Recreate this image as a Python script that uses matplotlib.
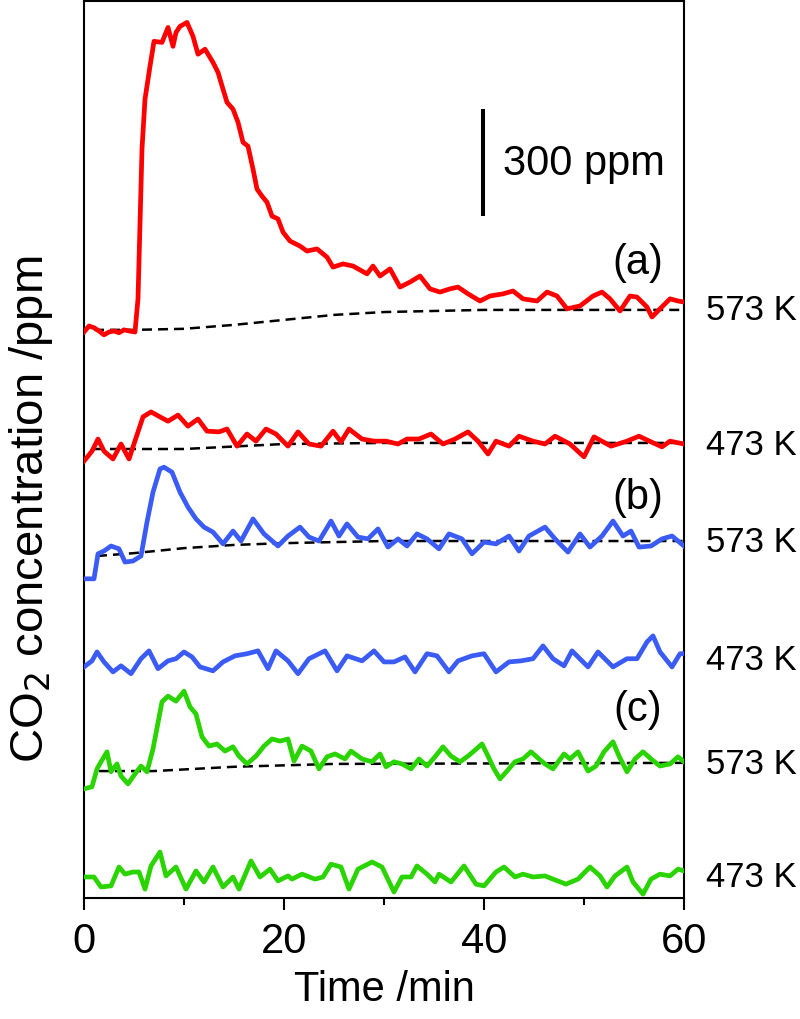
import matplotlib
matplotlib.use("Agg")
import matplotlib.pyplot as plt
from matplotlib.ticker import MultipleLocator

plt.rcParams['font.family'] = ['Liberation Sans', 'DejaVu Sans']

# Time axis (min) and CO2 signals (ppm, relative to each trace's own baseline)
t_a573 = [0, 0.5, 1, 1.5, 2, 2.5, 3, 3.5, 4, 4.5, 5.1, 5.4, 5.8, 6.1, 6.6, 7.0, 7.8, 8.4, 8.9, 9.2,
          9.6, 10.3, 10.9, 11.4, 12.1, 12.9, 13.4, 13.9, 14.3, 14.9, 15.4, 15.9, 16.4, 16.9, 17.3,
          17.8, 18.3, 18.8, 19.4, 19.9, 20.6, 21.6, 22.3, 23.3, 24.3, 24.9, 25.9, 26.9, 28.3, 28.9,
          29.6, 30.6, 31.6, 32.6, 33.6, 34.6, 35.6, 36.6, 37.4, 38.4, 39.6, 40.6, 41.9, 42.9, 43.9,
          45.3, 46.3, 47.3, 48.3, 49.6, 50.9, 51.8, 52.6, 53.6, 54.6, 55.3, 56.3, 56.8, 57.6, 58.6,
          59.4, 60]
v_a573 = [-6, 11, 6, -3, -14, -6, -3, -8, 0, -3, -6, 87, 507, 647, 739, 809, 806, 848, 795, 834,
          851, 862, 823, 773, 787, 750, 722, 675, 638, 619, 582, 526, 515, 451, 395,
          375, 358, 319, 311, 274, 249, 235, 221, 227, 204, 176, 185, 179, 157, 179,
          151, 171, 120, 134, 151, 115, 106, 115, 120, 101, 81, 95, 101, 109, 87,
          81, 106, 95, 59, 67, 95, 106, 87, 53, 95, 92, 64, 36, 59, 87,
          81, 78]

t_a473 = [0, 0.8, 1.4, 2.0, 2.9, 3.7, 4.5, 4.9, 5.9, 6.7, 7.6, 8.4, 9.4, 10.4, 11.4, 12.3, 13.5,
          14.3, 15.3, 16.3, 17.2, 18.2, 19.2, 20.4, 21.4, 22.5, 23.7, 24.9, 25.7, 26.5, 27.8, 29.0,
          30.2, 31.4, 32.3, 33.5, 34.7, 35.9, 37.1, 38.4, 39.4, 40.4, 41.2, 42.5, 43.5, 44.9, 46.1,
          47.1, 48.6, 50.0, 51.0, 52.7, 54.3, 55.5, 56.7, 57.8, 58.6, 60]
v_a473 = [-48, -20, 14, -20, -42, 0, -42, -8, 76, 90, 76, 64, 81, 50, 70, 36, 34,
          42, -6, 28, 8, 42, 28, -6, 34, 0, -6, 36, 6, 42, 14, 8,
          8, 0, 14, 14, 28, 0, 14, 34, 8, -28, 8, -6, 22, 8, 0,
          22, 0, -36, 20, -6, 8, 22, 6, -8, 8, 0]

t_b573 = [0, 1.0, 1.4, 2.0, 2.7, 3.5, 4.1, 4.9, 5.7, 6.3, 6.9, 7.6, 8.0, 8.8, 9.6, 10.4, 11.2,
          12.0, 12.9, 13.9, 14.9, 15.7, 16.9, 18.0, 19.4, 20.4, 21.6, 22.5, 23.5, 24.7, 25.5, 26.3,
          27.4, 28.4, 29.4, 30.4, 31.4, 32.3, 33.3, 34.3, 35.5, 36.5, 37.8, 38.8, 40.0, 41.2, 42.5,
          43.5, 44.5, 46.1, 47.1, 48.4, 49.6, 50.6, 51.8, 52.9, 53.9, 54.7, 55.5, 56.7, 57.8, 58.8,
          60]
v_b573 = [-106, -106, -36, -28, -14, -22, -59, -56, -42, 53, 137, 202, 207, 193, 137, 95, 62,
          39, 25, -8, 28, 0, 62, 20, -14, 14, 39, 11, 0, 56, 14, 48,
          11, 6, 34, -17, 6, -14, 20, 6, -22, 20, 6, -36, -3, -8, 14,
          -28, 14, 39, 6, -31, 20, -17, 14, 56, 14, 28, -17, -14, 6, 14,
          -14]

t_b473 = [0, 0.8, 1.3, 2.0, 2.9, 3.7, 4.7, 5.7, 6.5, 7.4, 8.4, 9.2, 10.0, 10.8, 11.6, 12.9, 13.9,
          15.1, 16.3, 17.4, 18.4, 19.2, 20.4, 21.4, 22.5, 24.1, 25.3, 26.3, 27.8, 29.0, 30.0, 31.0,
          32.1, 33.1, 34.3, 35.3, 36.5, 37.4, 38.8, 40.0, 41.2, 42.5, 43.7, 44.9, 45.9, 46.9, 48.0,
          48.8, 50.4, 51.4, 52.9, 54.3, 55.3, 56.3, 56.9, 57.6, 58.8, 59.6, 60]
v_b473 = [-17, 0, 25, -3, -31, -14, -36, 6, 28, -22, 0, 6, 25, 11, -17, -28, -3,
          14, 20, 28, -22, 28, 0, -36, 6, 28, -28, 14, 0, 28, -3, -3,
          11, -31, 20, 14, -31, 0, 14, 20, -31, -3, 0, 6, 42, 6, -14,
          28, -17, 25, -17, 6, 6, 53, 70, 25, -17, 20, 20]

t_c573 = [0, 0.8, 1.3, 1.7, 2.3, 2.7, 3.3, 3.7, 4.4, 5.1, 5.7, 6.3, 6.9, 7.8, 8.4, 9.2, 10.0,
          10.6, 11.2, 11.8, 12.5, 13.3, 14.1, 14.9, 15.5, 16.3, 17.2, 18.0, 18.8, 19.6, 20.4, 21.0,
          21.8, 22.7, 23.5, 24.3, 25.1, 26.1, 26.7, 27.8, 28.8, 29.6, 30.2, 31.0, 31.8, 32.7, 33.5,
          34.3, 35.1, 35.9, 36.7, 37.6, 38.4, 39.0, 39.8, 40.4, 41.0, 41.6, 42.3, 43.1, 43.9, 44.7,
          45.5, 46.1, 46.9, 48.0, 48.6, 49.4, 50.4, 51.2, 52.0, 52.9, 53.5, 54.3, 55.1, 55.9, 56.7,
          57.6, 58.6, 59.4, 60]
v_c573 = [-70, -64, -14, 6, 34, -22, 0, -34, -56, -28, -6, -22, 42, 174, 190, 176, 204,
          160, 140, 76, 50, 56, 36, 48, 22, 0, 22, 50, 70, 64, 70, 8,
          50, 36, -14, 20, 28, 14, 36, 14, 6, 28, -8, 6, 0, -14, 14,
          -6, 20, 48, 22, 6, 22, 36, 56, 22, -14, -42, -20, 6, 14, 34,
          14, 0, -14, 28, 14, 34, -20, -6, 34, 62, 22, -22, 14, 34, 14,
          -6, 0, 20, 6]

t_c473 = [0, 1.0, 1.7, 2.7, 3.5, 4.1, 4.9, 5.5, 6.1, 6.7, 7.6, 8.2, 9.2, 10.2, 11.2, 12.0, 12.9,
          13.9, 14.9, 15.5, 16.7, 17.6, 18.6, 19.4, 20.4, 20.8, 21.8, 23.1, 23.9, 24.7, 25.7, 26.5,
          27.4, 28.8, 29.8, 31.0, 31.8, 32.7, 33.3, 34.3, 35.1, 35.5, 36.7, 38.0, 39.2, 40.0, 41.2,
          42.0, 43.1, 43.9, 44.9, 46.1, 46.9, 48.2, 49.4, 50.6, 51.6, 52.3, 53.1, 54.3, 54.9, 55.9,
          56.7, 57.6, 58.6, 59.4, 60]
v_c473 = [0, 0, -28, -25, 28, 8, 14, 14, -34, 31, 70, 3, 28, -34, 17, -14, 28,
          -28, 0, -34, 45, 0, 22, -11, 3, -6, 8, -6, 0, 36, 28, -34,
          22, 42, 28, -42, 0, 0, 31, 8, -14, 8, -14, 31, -20, -25, 14,
          28, 0, 8, 0, 3, -6, -20, -6, 28, 3, -28, 3, 28, -14, -48,
          -6, 8, 3, 22, 17]

# dashed baselines (ppm, relative)
tb_a573 = [1, 5, 10, 15, 20, 25, 30, 40, 50, 60]
vb_a573 = [0, 0, 3, 14, 28, 42, 50, 56, 56, 56]
tb_a473 = [1, 10, 20, 30, 60]
vb_a473 = [-14, -14, 0, 3, 3]
tb_b573 = [1.3, 5, 10, 15, 20, 30, 60]
vb_b573 = [-42, -34, -20, -11, -6, 0, 0]
tb_c573 = [1.5, 7, 15, 25, 60]
vb_c573 = [-20, -20, -8, 0, 3]

# vertical offsets used to stack the traces (ppm)
offsets = [1593, 1273, 1001, 665, 376, 59]
temps = ['573 K', '473 K', '573 K', '473 K', '573 K', '473 K']
label_shift = [56, 0, 0, 5, 0, 0]
panels = ['(a)', '(b)', '(c)']
panel_y = [1783, 1124, 530]

red = '#ff0000'
blue = '#3a5cf5'
green = '#2ad400'

traces = [(t_a573, v_a573, red), (t_a473, v_a473, red),
          (t_b573, v_b573, blue), (t_b473, v_b473, blue),
          (t_c573, v_c573, green), (t_c473, v_c473, green)]
baselines = [(tb_a573, vb_a573, 0), (tb_a473, vb_a473, 1),
             (tb_b573, vb_b573, 2), (tb_c573, vb_c573, 4)]

fig = plt.figure(figsize=(8, 10.2), dpi=100)
ax = fig.add_axes([0.105, 0.1186, 0.75, 0.8794])

for tb, vb, k in baselines:
    ax.plot(tb, [v + offsets[k] for v in vb], color='black', lw=1.8,
            linestyle=(0, (4, 2.4)), zorder=2)

for k, (t, v, c) in enumerate(traces):
    ax.plot(t, [y + offsets[k] for y in v], color=c, lw=3.4, zorder=3)
    ax.text(1.037, offsets[k] + label_shift[k], temps[k], transform=ax.get_yaxis_transform(),
            fontsize=25, va='center', ha='left', clip_on=False)

for p, y in zip(panels, panel_y):
    ax.text(55.4, y, p, fontsize=30, ha='center', va='center')

# scale bar
ax.plot([39.9, 39.9], [1912, 2212], color='black', lw=2.9, solid_capstyle='butt')
ax.text(41.9, 2062, '300 ppm', fontsize=30, ha='left', va='center')

ax.set_xlim(0, 60)
ax.set_ylim(0, 2515)
ax.set_yticks([])
ax.xaxis.set_major_locator(MultipleLocator(20))
ax.xaxis.set_minor_locator(MultipleLocator(10))
ax.tick_params(axis='x', which='major', direction='out', length=8.6, width=1.5,
               labelsize=30, pad=8)
ax.tick_params(axis='x', which='minor', direction='out', length=5, width=1.5)
for s in ax.spines.values():
    s.set_linewidth(1.5)

ax.set_xlabel('Time /min', fontsize=30, labelpad=6)
ax.set_ylabel('CO$_2$ concentration /ppm', fontsize=34)
ax.yaxis.set_label_coords(-0.048, 0.434)

fig.savefig('out.png', dpi=100)
